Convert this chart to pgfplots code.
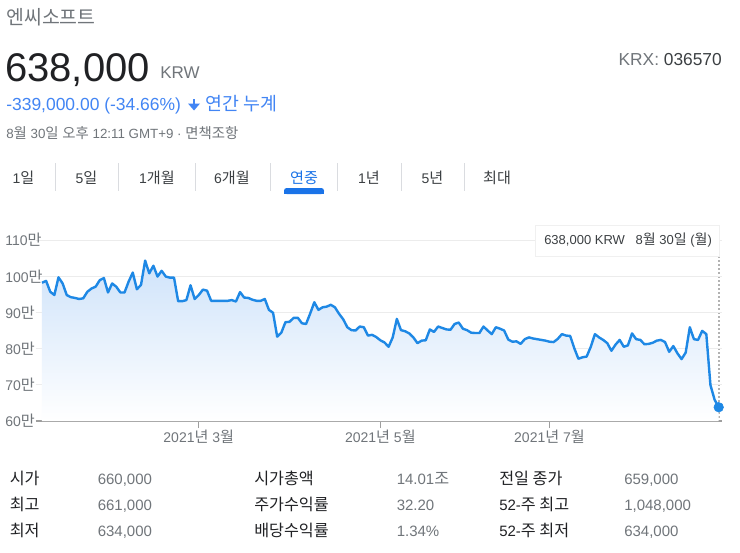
\documentclass[border=0pt]{standalone}
\usepackage{fontspec}
\setmainfont{Liberation Sans}
\newfontfamily\kr[Scale=1.08]{Noto Sans CJK KR}
\newcommand{\K}[1]{{\kr #1}}
\newcommand{\fs}[1]{\fontsize{#1}{#1}\selectfont}
\usepackage{pgfplots}
\pgfplotsset{compat=1.18}
\usepackage{pgfplotstable}
\usetikzlibrary{shadows}
\definecolor{gdark}{RGB}{32,33,36}
\definecolor{ggray}{RGB}{112,117,122}
\definecolor{gmid}{RGB}{60,64,67}
\definecolor{gblue}{RGB}{26,115,232}
\definecolor{tblue}{RGB}{66,133,244}
\definecolor{lineblue}{RGB}{30,136,229}
\definecolor{fillblue}{RGB}{207,227,250}
\definecolor{fillmid}{RGB}{238,244,253}
\definecolor{gridc}{RGB}{236,236,236}
\definecolor{axisc}{RGB}{158,158,158}
\definecolor{sepc}{RGB}{218,220,224}

\pgfplotstableread{
d v
0 98.2
1 98.7
2 95.7
3 94.8
4 99.7
5 98.0
6 94.8
7 94.2
8 94.0
9 93.7
10 93.9
11 95.7
12 96.6
13 97.1
14 98.9
15 99.5
16 95.5
17 98.0
18 97.1
19 95.5
20 95.5
21 98.5
22 101.0
23 96.4
24 97.6
25 104.3
26 100.8
27 102.9
28 99.9
29 101.5
30 99.9
31 99.6
32 99.6
33 93.1
34 93.1
35 93.4
36 97.5
37 93.7
38 94.8
39 96.3
40 96.0
41 93.2
42 93.2
43 93.2
44 93.2
45 93.2
46 93.4
47 93.0
48 95.6
49 94.1
50 94.0
51 93.5
52 93.2
53 93.2
54 93.7
55 90.7
56 89.9
57 83.3
58 84.4
59 87.3
60 87.4
61 88.5
62 88.5
63 87.0
64 86.8
65 89.7
66 92.8
67 90.7
68 91.4
69 91.6
70 92.1
71 91.4
72 89.6
73 88.1
74 85.9
75 85.1
76 85.0
77 86.1
78 85.9
79 83.6
80 83.8
81 83.2
82 82.3
83 81.7
84 80.5
85 83.1
86 88.2
87 85.1
88 84.8
89 84.2
90 83.1
91 81.5
92 82.2
93 82.3
94 85.3
95 84.6
96 86.1
97 85.7
98 85.3
99 85.2
100 86.8
101 87.2
102 85.5
103 85.1
104 84.4
105 84.3
106 84.3
107 86.1
108 85.0
109 84.0
110 85.9
111 85.5
112 85.0
113 82.5
114 81.9
115 82.0
116 81.3
117 82.6
118 83.1
119 82.8
120 82.6
121 82.4
122 82.2
123 81.9
124 81.8
125 82.7
126 84.0
127 83.6
128 83.5
129 80.1
130 77.2
131 77.6
132 77.8
133 80.5
134 84.0
135 83.1
136 82.4
137 81.5
138 79.4
139 81.1
140 82.4
141 80.5
142 80.9
143 84.2
144 82.6
145 82.4
146 81.2
147 81.3
148 81.6
149 82.2
150 82.4
151 81.8
152 79.1
153 80.7
154 78.7
155 77.1
156 78.9
157 85.9
158 82.6
159 82.4
160 84.9
161 84.0
162 69.9
163 65.9
164 63.8
}\price

\begin{document}
\begin{tikzpicture}
\begin{scope}[x=0.75pt,y=-0.75pt]
\fill[white] (0,0) rectangle (740,553);
% header
\node[anchor=base west, inner sep=0, text=ggray, font=\kr\fs{13.5}] at (6,24) {엔씨소프트};
\node[anchor=base west, inner sep=0, text=gdark, font=\fs{30}] at (5,81) {638,000};
\node[anchor=base west, inner sep=0, text=ggray, font=\fs{12.75}] at (160,79) {KRW};
\node[anchor=base east, inner sep=0, font=\fs{13}] at (722,65) {\textcolor{ggray}{KRX:} \textcolor{gmid}{036570}};
\node[anchor=base west, inner sep=0, text=tblue, font=\fs{13.1}] at (6,110) {-339,000.00 (-34.66\%)};
\fill[tblue] (192.6,99) rectangle (195.4,105);
\fill[tblue] (188,103.5) -- (200,103.5) -- (194,110.5) -- cycle;
\node[anchor=base west, inner sep=0, text=tblue, font=\kr\fs{12.75}] at (205,110) {연간 누계};
\node[anchor=base west, inner sep=0, text=ggray, font=\fs{10}] at (6,138) {8\K{월} 30\K{일} \K{오후} 12:11 GMT+9 · \K{면책조항}};
% tabs
\node[anchor=base, inner sep=0, text=gmid, font=\fs{10.5}] at (23.5,183) {1\K{일}};
\node[anchor=base, inner sep=0, text=gmid, font=\fs{10.5}] at (86.5,183) {5\K{일}};
\node[anchor=base, inner sep=0, text=gmid, font=\fs{10.5}] at (157,183) {1\K{개월}};
\node[anchor=base, inner sep=0, text=gmid, font=\fs{10.5}] at (232,183) {6\K{개월}};
\node[anchor=base, inner sep=0, text=gblue, font=\kr\fs{10.5}] at (304,183) {연중};
\node[anchor=base, inner sep=0, text=gmid, font=\fs{10.5}] at (369,183) {1\K{년}};
\node[anchor=base, inner sep=0, text=gmid, font=\fs{10.5}] at (432.5,183) {5\K{년}};
\node[anchor=base, inner sep=0, text=gmid, font=\kr\fs{10.5}] at (497,183) {최대};
\foreach \sx in {55,118,195,270,337,401,464}
  \draw[sepc, line width=0.75pt] (\sx,163) -- (\sx,191);
\fill[gblue, rounded corners=2pt] (284,188) rectangle (324,194);
\fill[gblue] (284,191) rectangle (324,194);
\draw[black!30, line width=1.1pt, dash pattern=on 1.5pt off 1.5pt] (719,256) -- (719,424);
% stats table
\begin{scope}[every node/.style={anchor=base west, inner sep=0, font=\fs{11.25}}]
\node[text=gdark] at (9.5,484) {\K{시가}};
\node[text=gdark] at (9.5,510) {\K{최고}};
\node[text=gdark] at (9.5,536) {\K{최저}};
\node[text=ggray] at (97.5,484) {660,000};
\node[text=ggray] at (97.5,510) {661,000};
\node[text=ggray] at (97.5,536) {634,000};
\node[text=gdark] at (254,484) {\K{시가총액}};
\node[text=gdark] at (254,510) {\K{주가수익률}};
\node[text=gdark] at (254,536) {\K{배당수익률}};
\node[text=ggray] at (396.5,484) {14.01\K{조}};
\node[text=ggray] at (396.5,510) {32.20};
\node[text=ggray] at (396.5,536) {1.34\%};
\node[text=gdark] at (499,484) {\K{전일 종가}};
\node[text=gdark] at (499,510) {52-\K{주 최고}};
\node[text=gdark] at (499,536) {52-\K{주 최저}};
\node[text=ggray] at (624,484) {659,000};
\node[text=ggray] at (624,510) {1,048,000};
\node[text=ggray] at (624,536) {634,000};
\end{scope}
\end{scope}

\begin{axis}[
  at={(27pt,-315.75pt)}, anchor=south west,
  scale only axis, width=514.5pt, height=135.75pt,
  xmin=-1.45, xmax=164.8, ymin=60, ymax=110,
  axis lines*=left,
  x axis line style={draw=axisc, line width=1.5pt},
  y axis line style={draw=none},
  xtick={38,82,123},
  xticklabels={2021\K{년} 3\K{월}, 2021\K{년} 5\K{월}, 2021\K{년} 7\K{월}},
  ytick={60,70,80,90,100,110},
  yticklabels={60\K{만},70\K{만},80\K{만},90\K{만},100\K{만},110\K{만}},
  ymajorgrids, grid style={gridc, line width=0.75pt},
  tick align=outside, major tick length=5.25pt,
  xtick style={draw=axisc, line width=0.75pt},
  ytick style={draw=none},
  yticklabel style={anchor=west, inner sep=0pt, xshift=-18pt, text=ggray, font=\fs{10.5}},
  xticklabel style={text=ggray, font=\fs{10.5}, yshift=2.25pt},
  clip=false,
]
\addplot[draw=none, top color=fillblue, middle color=fillmid, bottom color=white] table[x=d,y=v]{\price} -- (axis cs:164,60) -- (axis cs:0,60) -- cycle;
\addplot[draw=lineblue, line width=1.8pt, line join=round] table[x=d,y=v]{\price};
\addplot[only marks, mark=*, mark size=3.6pt, mark options={fill=lineblue, draw=lineblue}] coordinates {(164,63.8)};
\end{axis}

\begin{scope}[x=0.75pt,y=-0.75pt]
\path[fill=white, draw=black!6, drop shadow={shadow xshift=0pt, shadow yshift=-1pt, opacity=0.18}] (535,225) rectangle (719,256);
\node[anchor=base west, inner sep=0, text=gmid, font=\fs{9.75}] at (544,244) {638,000 KRW\hspace{8pt}8\K{월} 30\K{일} (\K{월})};
\end{scope}
\end{tikzpicture}
\end{document}
